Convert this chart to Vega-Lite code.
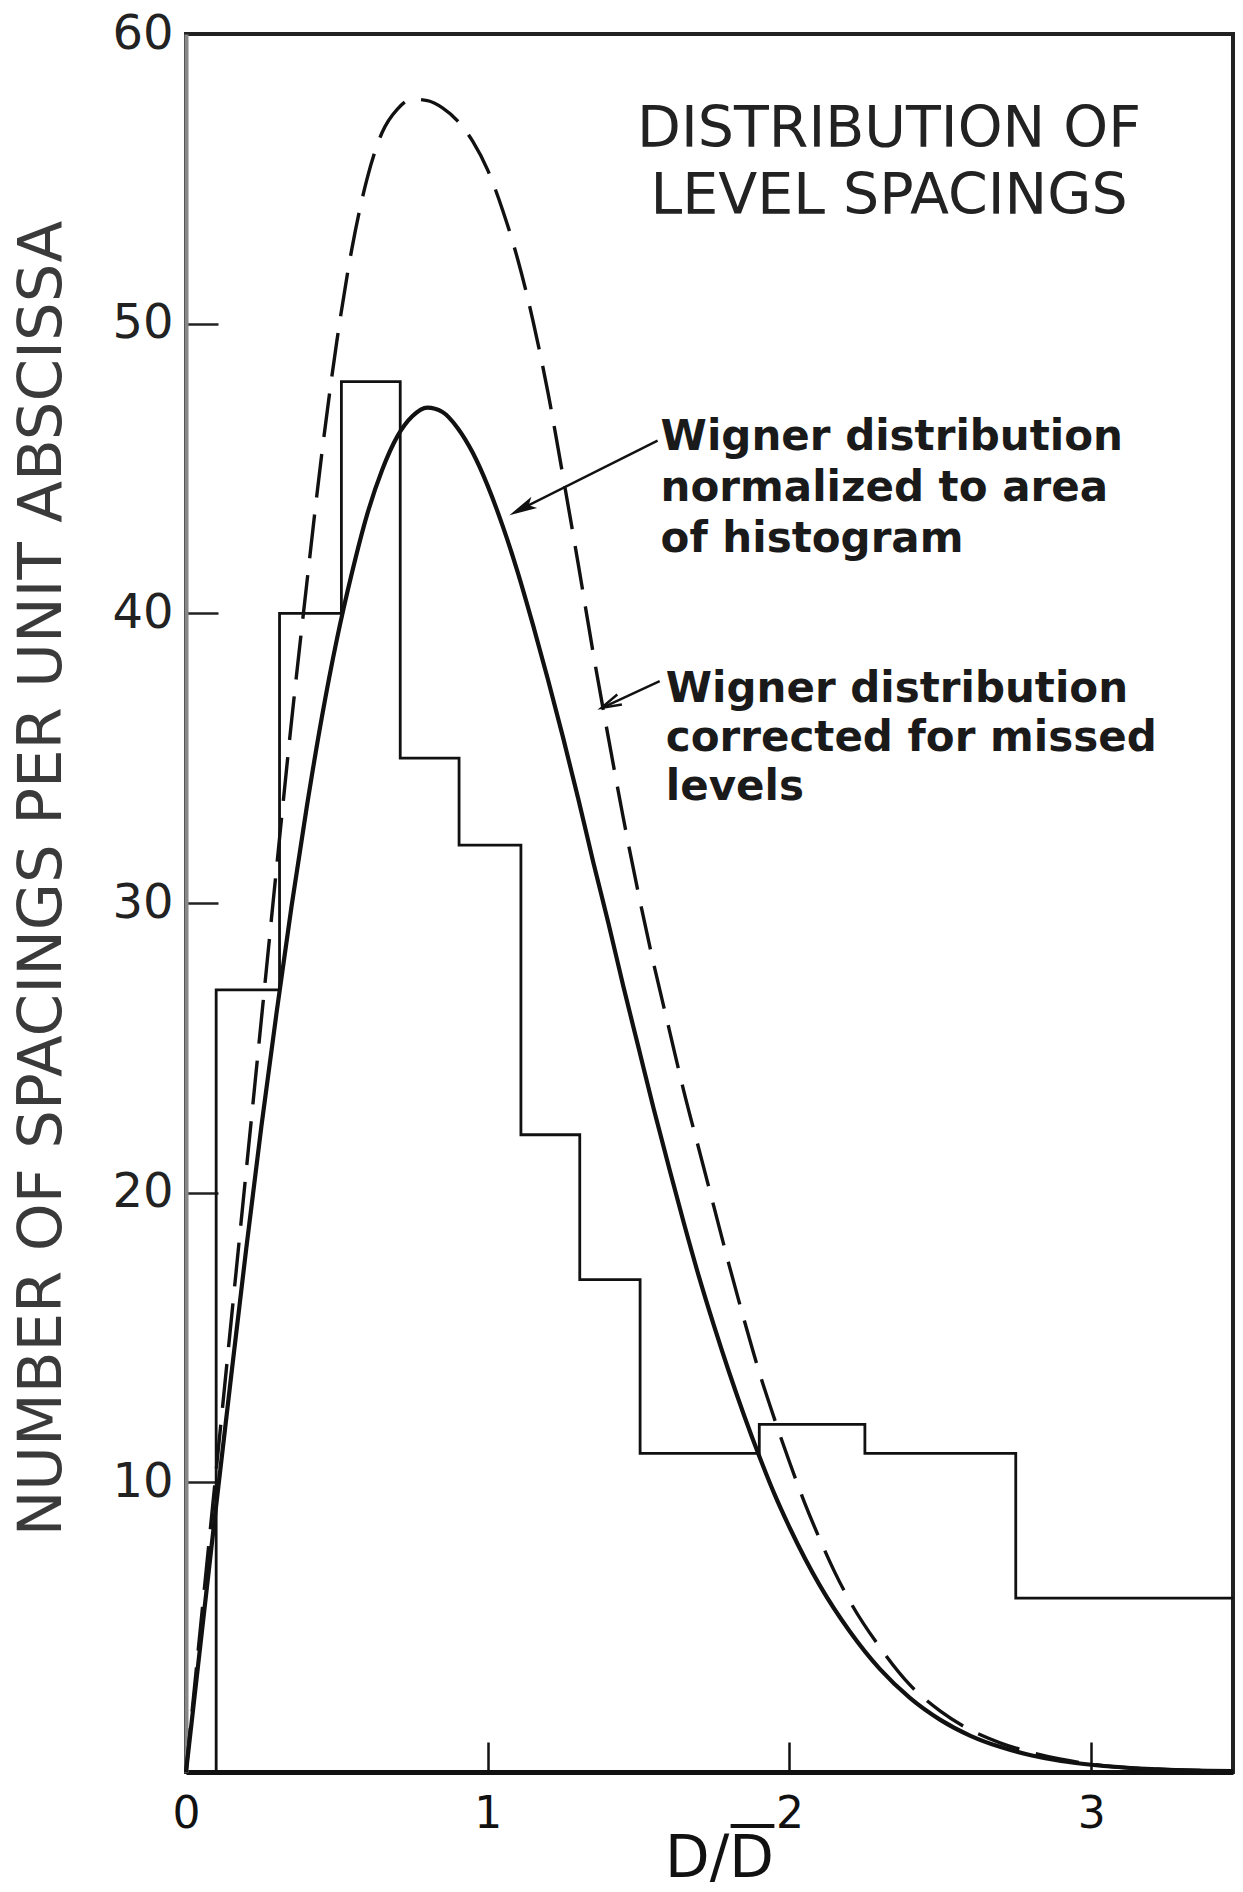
{
  "$schema": "https://vega.github.io/schema/vega-lite/v6.json",
  "width": 1047,
  "height": 1738,
  "autosize": {"type": "none"},
  "padding": {"left": 186, "top": 34, "right": 10, "bottom": 120},
  "background": "white",
  "config": {
    "font": "DejaVu Sans",
    "view": {"stroke": "#222", "strokeWidth": 4}
  },
  "datasets": {
    "histogram": [
      {"D": 0.1, "n": 0},
      {"D": 0.1, "n": 27},
      {"D": 0.31, "n": 40},
      {"D": 0.515, "n": 48},
      {"D": 0.71, "n": 35},
      {"D": 0.905, "n": 32},
      {"D": 1.11, "n": 22},
      {"D": 1.305, "n": 17},
      {"D": 1.505, "n": 11},
      {"D": 1.9, "n": 12},
      {"D": 2.25, "n": 11},
      {"D": 2.75, "n": 6},
      {"D": 3.47, "n": 6}
    ],
    "wigner_area": [
      {"D": 0, "n": 0},
      {"D": 0.05, "n": 4.6},
      {"D": 0.1, "n": 9.2},
      {"D": 0.15, "n": 13.7},
      {"D": 0.2, "n": 18.1},
      {"D": 0.25, "n": 22.3},
      {"D": 0.3, "n": 26.2},
      {"D": 0.35, "n": 29.9},
      {"D": 0.4, "n": 33.3},
      {"D": 0.45, "n": 36.4},
      {"D": 0.5, "n": 39.1},
      {"D": 0.55, "n": 41.4},
      {"D": 0.6, "n": 43.4},
      {"D": 0.65, "n": 44.95},
      {"D": 0.7, "n": 46.1},
      {"D": 0.75, "n": 46.8},
      {"D": 0.8, "n": 47.1},
      {"D": 0.85, "n": 46.95},
      {"D": 0.9, "n": 46.4},
      {"D": 0.95, "n": 45.55},
      {"D": 1.0, "n": 44.4},
      {"D": 1.05, "n": 43.0},
      {"D": 1.1, "n": 41.4},
      {"D": 1.15, "n": 39.6},
      {"D": 1.2, "n": 37.7},
      {"D": 1.25, "n": 35.7},
      {"D": 1.3, "n": 33.6},
      {"D": 1.35, "n": 31.4},
      {"D": 1.4, "n": 29.3},
      {"D": 1.45, "n": 27.1},
      {"D": 1.5, "n": 25.0},
      {"D": 1.55, "n": 22.9},
      {"D": 1.6, "n": 20.9},
      {"D": 1.65, "n": 18.95},
      {"D": 1.7, "n": 17.1},
      {"D": 1.75, "n": 15.4},
      {"D": 1.8, "n": 13.8},
      {"D": 1.85, "n": 12.3},
      {"D": 1.9, "n": 10.9},
      {"D": 1.95, "n": 9.6},
      {"D": 2.0, "n": 8.45},
      {"D": 2.1, "n": 6.45},
      {"D": 2.2, "n": 4.85},
      {"D": 2.3, "n": 3.55},
      {"D": 2.4, "n": 2.55},
      {"D": 2.5, "n": 1.8},
      {"D": 2.6, "n": 1.25},
      {"D": 2.7, "n": 0.86},
      {"D": 2.8, "n": 0.58},
      {"D": 2.9, "n": 0.38},
      {"D": 3.0, "n": 0.25},
      {"D": 3.2, "n": 0.1},
      {"D": 3.47, "n": 0.03}
    ],
    "wigner_missed": [
      {"D": 0, "n": 0},
      {"D": 0.05, "n": 5.2},
      {"D": 0.1, "n": 10.4},
      {"D": 0.15, "n": 15.6},
      {"D": 0.2, "n": 20.8},
      {"D": 0.25, "n": 26.0},
      {"D": 0.3, "n": 31.2},
      {"D": 0.35, "n": 36.3},
      {"D": 0.4, "n": 41.0},
      {"D": 0.45, "n": 45.5},
      {"D": 0.5, "n": 49.4},
      {"D": 0.55, "n": 52.6},
      {"D": 0.6, "n": 55.0},
      {"D": 0.65, "n": 56.6},
      {"D": 0.7, "n": 57.4},
      {"D": 0.75, "n": 57.75},
      {"D": 0.8, "n": 57.7},
      {"D": 0.85, "n": 57.45},
      {"D": 0.9, "n": 57.0},
      {"D": 0.95, "n": 56.3},
      {"D": 1.0, "n": 55.3},
      {"D": 1.05, "n": 53.9},
      {"D": 1.1, "n": 52.2},
      {"D": 1.15, "n": 50.1},
      {"D": 1.2, "n": 47.6},
      {"D": 1.25, "n": 44.7},
      {"D": 1.3, "n": 41.7},
      {"D": 1.35, "n": 38.6},
      {"D": 1.4, "n": 35.7},
      {"D": 1.45, "n": 32.9},
      {"D": 1.5, "n": 30.3},
      {"D": 1.55, "n": 27.9},
      {"D": 1.6, "n": 25.7},
      {"D": 1.65, "n": 23.5},
      {"D": 1.7, "n": 21.5},
      {"D": 1.75, "n": 19.5},
      {"D": 1.8, "n": 17.5},
      {"D": 1.85, "n": 15.6},
      {"D": 1.9, "n": 13.8},
      {"D": 1.95, "n": 12.2},
      {"D": 2.0, "n": 10.7},
      {"D": 2.05, "n": 9.3},
      {"D": 2.1, "n": 8.05},
      {"D": 2.15, "n": 6.9},
      {"D": 2.2, "n": 5.9},
      {"D": 2.3, "n": 4.3},
      {"D": 2.4, "n": 3.0},
      {"D": 2.5, "n": 2.1},
      {"D": 2.6, "n": 1.45},
      {"D": 2.7, "n": 1.0},
      {"D": 2.8, "n": 0.68},
      {"D": 2.9, "n": 0.44},
      {"D": 3.0, "n": 0.27},
      {"D": 3.2, "n": 0.1},
      {"D": 3.47, "n": 0.04}
    ]
  },
  "layer": [
    {
      "data": {"name": "histogram"},
      "mark": {"type": "line", "interpolate": "step-after", "color": "#111", "strokeWidth": 2.8},
      "encoding": {
        "x": {
          "field": "D",
          "type": "quantitative",
          "scale": {"domain": [0, 3.47], "nice": false, "zero": false},
          "axis": {
            "title": "D/D",
            "values": [0, 1, 2, 3],
            "format": "d",
            "grid": false,
            "tickSize": -30,
            "tickWidth": 2.5,
            "tickColor": "#111",
            "labelPadding": 50,
            "labelFontSize": 44,
            "labelColor": "#111",
            "labelFlush": false,
            "domainColor": "#111",
            "domainWidth": 5,
            "titleFontSize": 58,
            "titleFontWeight": "normal",
            "titleColor": "#111",
            "titleX": 533,
            "titleY": 104,
            "titleAlign": "center",
            "titleBaseline": "alphabetic"
          }
        },
        "y": {
          "field": "n",
          "type": "quantitative",
          "scale": {"domain": [0, 60], "nice": false},
          "axis": {
            "title": "NUMBER OF SPACINGS PER UNIT ABSCISSA",
            "values": [10, 20, 30, 40, 50, 60],
            "grid": false,
            "tickSize": -32,
            "tickWidth": 2.5,
            "tickColor": "#222",
            "labelPadding": 45,
            "labelFontSize": 48,
            "labelColor": "#222",
            "labelFlush": false,
            "domainColor": "#888",
            "domainWidth": 4,
            "titleFontSize": 61,
            "titleFontWeight": "normal",
            "titleColor": "#3a3a3a",
            "titleAngle": -90,
            "titleX": -144,
            "titleY": 844,
            "titleAlign": "center",
            "titleBaseline": "middle"
          }
        },
        "order": {"value": null}
      }
    },
    {
      "data": {"name": "wigner_area"},
      "mark": {"type": "line", "interpolate": "monotone", "color": "#111", "strokeWidth": 4.2},
      "encoding": {
        "x": {"field": "D", "type": "quantitative"},
        "y": {"field": "n", "type": "quantitative"}
      }
    },
    {
      "data": {"name": "wigner_missed"},
      "mark": {"type": "line", "interpolate": "monotone", "color": "#111", "strokeWidth": 3.4, "strokeDash": [44, 17]},
      "encoding": {
        "x": {"field": "D", "type": "quantitative"},
        "y": {"field": "n", "type": "quantitative"}
      }
    },
    {
      "data": {"values": [{"k": 0}]},
      "mark": {"type": "rule", "color": "#111", "strokeWidth": 4},
      "encoding": {
        "x": {"datum": 1.805, "type": "quantitative"},
        "y": {"datum": -1.864, "type": "quantitative"},
        "x2": {"datum": 1.95},
        "y2": {"datum": -1.864}
      }
    },
    {
      "data": {"values": [{"k": 0}]},
      "mark": {"type": "rule", "color": "#111", "strokeWidth": 2.4},
      "encoding": {
        "x": {"datum": 1.563, "type": "quantitative"},
        "y": {"datum": 45.96, "type": "quantitative"},
        "x2": {"datum": 1.095},
        "y2": {"datum": 43.52}
      }
    },
    {
      "data": {"values": [{"k": 0}]},
      "mark": {"type": "point", "shape": "M0,-1L0.45,1L0,0.55L-0.45,1Z", "size": 784, "filled": true, "color": "#111", "opacity": 1, "angle": 242.8},
      "encoding": {
        "x": {"datum": 1.113, "type": "quantitative"},
        "y": {"datum": 43.61, "type": "quantitative"}
      }
    },
    {
      "data": {"values": [{"k": 0}]},
      "mark": {"type": "rule", "color": "#111", "strokeWidth": 2.4},
      "encoding": {
        "x": {"datum": 1.57, "type": "quantitative"},
        "y": {"datum": 37.66, "type": "quantitative"},
        "x2": {"datum": 1.377},
        "y2": {"datum": 36.73}
      }
    },
    {
      "data": {"values": [{"k": 0}]},
      "mark": {"type": "point", "shape": "M-0.55,1L0,-1L0.55,1", "size": 400, "filled": false, "stroke": "#111", "strokeWidth": 2.4, "opacity": 1, "angle": 245},
      "encoding": {
        "x": {"datum": 1.407, "type": "quantitative"},
        "y": {"datum": 36.88, "type": "quantitative"}
      }
    },
    {
      "data": {"values": [{"k": 0}]},
      "mark": {"type": "text", "text": ["DISTRIBUTION  OF", "LEVEL SPACINGS"], "align": "center", "baseline": "top", "fontSize": 57, "lineHeight": 67, "color": "#222"},
      "encoding": {
        "x": {"datum": 2.33, "type": "quantitative"},
        "y": {"datum": 57.65, "type": "quantitative"}
      }
    },
    {
      "data": {"values": [{"k": 0}]},
      "mark": {"type": "text", "text": ["Wigner distribution", "normalized to area", "of histogram"], "align": "left", "baseline": "top", "fontSize": 42, "fontWeight": "bold", "lineHeight": 51, "color": "#1a1a1a"},
      "encoding": {
        "x": {"datum": 1.573, "type": "quantitative"},
        "y": {"datum": 46.78, "type": "quantitative"}
      }
    },
    {
      "data": {"values": [{"k": 0}]},
      "mark": {"type": "text", "text": ["Wigner distribution", "corrected for missed", "levels"], "align": "left", "baseline": "top", "fontSize": 42, "fontWeight": "bold", "lineHeight": 49, "color": "#1a1a1a"},
      "encoding": {
        "x": {"datum": 1.59, "type": "quantitative"},
        "y": {"datum": 38.08, "type": "quantitative"}
      }
    }
  ]
}
